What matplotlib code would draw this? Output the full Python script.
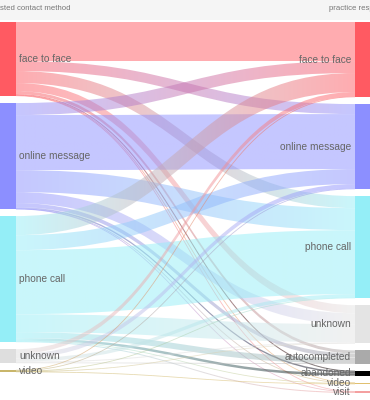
import numpy as np
import matplotlib
matplotlib.use('Agg')
import matplotlib.pyplot as plt
from matplotlib.path import Path
from matplotlib.patches import PathPatch, Rectangle
from matplotlib.collections import LineCollection
from matplotlib.colors import to_rgb

# requested contact method (left) -> practice response (right)
sources = ['face to face', 'online message', 'phone call', 'unknown', 'video']
targets = ['face to face', 'online message', 'phone call', 'unknown',
           'autocompleted', 'abandoned', 'video', 'visit']

# rows = sources, columns = targets
flows = [
    [39, 10, 12, 8, 3, 1, 0.3, 0.7],
    [12, 55, 22, 11, 4, 1.5, 0.3, 0.2],
    [19, 15, 64, 18, 6, 2.5, 0.5, 1],
    [4.5, 4.5, 3.5, 1, 0.3, 0, 0, 0],
    [0.5, 0.5, 0.5, 0.2, 0, 0, 0.3, 0],
]

source_colors = ['#ff5a62', '#8c8fff', '#94eef7', '#dedede', '#c9b66b']
target_colors = ['#ff5a62', '#8c8fff', '#94eef7', '#e4e4e4', '#aaaaaa',
                 '#000000', '#e0c070', '#f4a0a0']

flows = np.array(flows, dtype=float)
src_tot = flows.sum(axis=1)
tgt_tot = flows.sum(axis=0)

W, H = 370, 400
top, bottom, pad = 22, 393, 7
node_w = 16
xl, xr = 0, W - 15

n_max = max(len(sources), len(targets))
ky = (bottom - top - pad * (n_max - 1)) / flows.sum()


def stack(totals):
    ys = []
    y = top
    for t in totals:
        ys.append((y, y + t * ky))
        y += t * ky + pad
    return ys


src_y = stack(src_tot)
tgt_y = stack(tgt_tot)

fig = plt.figure(figsize=(W / 100, H / 100), dpi=100)
ax = fig.add_axes([0, 0, 1, 1])
ax.set_xlim(0, W)
ax.set_ylim(H, 0)
ax.axis('off')

# header strip (column titles run off the edges, as in the original crop)
ax.add_patch(Rectangle((0, 0), W, 20, facecolor='#f5f5f5', edgecolor='none', zorder=0))
ax.text(70, 8.5, 'requested contact method', ha='right', va='center',
        fontsize=5.6, color='#777777', family='Liberation Sans')
ax.text(329, 8.5, 'practice response', ha='left', va='center',
        fontsize=5.6, color='#777777', family='Liberation Sans')

x0, x1 = xl + node_w, xr
xm = (x0 + x1) / 2
grad = np.linspace(0, 1, 256)[:, None]

src_off = [a for a, b in src_y]
tgt_off = [a for a, b in tgt_y]
links = []
for i in range(len(sources)):
    for j in range(len(targets)):
        v = flows[i, j]
        if v <= 0:
            continue
        links.append((i, j, v))

# offsets at source follow target order, at target follow source order
seg = {}
for i in range(len(sources)):
    for j in range(len(targets)):
        if flows[i, j] > 0:
            w = flows[i, j] * ky
            seg[(i, j, 's')] = (src_off[i], src_off[i] + w)
            src_off[i] += w
for j in range(len(targets)):
    for i in range(len(sources)):
        if flows[i, j] > 0:
            w = flows[i, j] * ky
            seg[(i, j, 't')] = (tgt_off[j], tgt_off[j] + w)
            tgt_off[j] += w

for i, j, v in links:
    s0, s1 = seg[(i, j, 's')]
    t0, t1 = seg[(i, j, 't')]
    c0 = np.array(to_rgb(source_colors[i]))
    c1 = np.array(to_rgb(target_colors[j]))
    w = s1 - s0
    if w < 1.2:
        t = np.linspace(0, 1, 60)
        sm, tm = (s0 + s1) / 2, (t0 + t1) / 2
        bx = (1 - t) ** 3 * x0 + 3 * (1 - t) ** 2 * t * xm + 3 * (1 - t) * t ** 2 * xm + t ** 3 * x1
        by = (1 - t) ** 3 * sm + 3 * (1 - t) ** 2 * t * sm + 3 * (1 - t) * t ** 2 * tm + t ** 3 * tm
        pts = np.column_stack([bx, by])
        segs = np.stack([pts[:-1], pts[1:]], axis=1)
        frac = ((bx[:-1] + bx[1:]) / 2 - x0) / (x1 - x0)
        cols = np.zeros((len(frac), 4))
        cols[:, :3] = (1 - frac)[:, None] * c0 + frac[:, None] * c1
        cols[:, 3] = 0.55
        ax.add_collection(LineCollection(segs, colors=cols,
                                         linewidths=max(w, 0.8) * 0.72, zorder=1))
        continue
    verts = [(x0, s0), (xm, s0), (xm, t0), (x1, t0),
             (x1, t1), (xm, t1), (xm, s1), (x0, s1), (x0, s0)]
    codes = [Path.MOVETO, Path.CURVE4, Path.CURVE4, Path.CURVE4,
             Path.LINETO, Path.CURVE4, Path.CURVE4, Path.CURVE4, Path.CLOSEPOLY]
    patch = PathPatch(Path(verts, codes), facecolor='none', edgecolor='none')
    ax.add_patch(patch)
    img = np.zeros((1, 256, 4))
    img[0, :, :3] = (1 - grad) * c0 + grad * c1
    img[0, :, 3] = 0.5
    im = ax.imshow(img, extent=[x0, x1, max(s1, t1), min(s0, t0)], aspect='auto',
                   interpolation='bilinear', zorder=1)
    im.set_clip_path(patch)

# nodes and labels
for name, (a, b), c in zip(sources, src_y, source_colors):
    ax.add_patch(Rectangle((xl, a), node_w, max(b - a, 1), facecolor=c,
                           edgecolor='none', zorder=2))
    ax.text(xl + node_w + 3, (a + b) / 2, name, ha='left', va='center',
            fontsize=7.3, color='#666666', family='Liberation Sans', zorder=3)

for name, (a, b), c in zip(targets, tgt_y, target_colors):
    ax.add_patch(Rectangle((xr, a), node_w, max(b - a, 1), facecolor=c,
                           edgecolor='none', zorder=2))
    ax.text(xr - 4, (a + b) / 2, name, ha='right', va='center',
            fontsize=7.3, color='#666666', family='Liberation Sans', zorder=3)

ax.set_xlim(0, W)
ax.set_ylim(H, 0)
fig.savefig('out.png', dpi=100)
